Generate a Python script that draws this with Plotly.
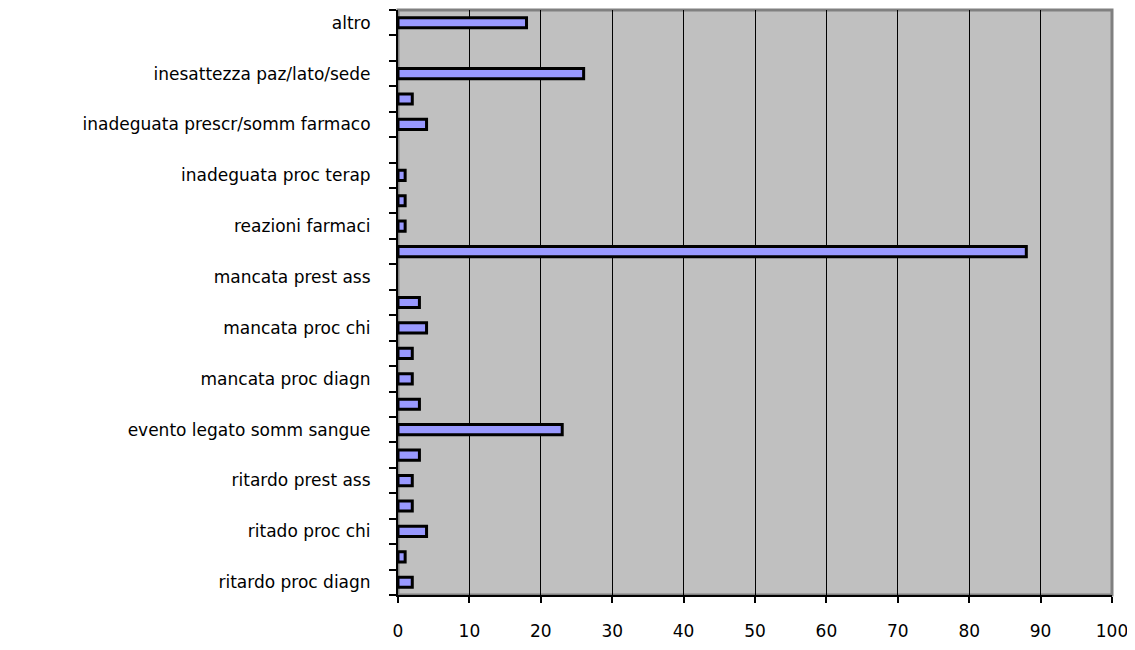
import plotly.graph_objects as go

# Categories from bottom to top; empty strings = rows whose label is not shown
labels = [
    "ritardo proc diagn", "",
    "ritado proc chi", "",
    "ritardo prest ass", "",
    "evento legato somm sangue", "",
    "mancata proc diagn", "",
    "mancata proc chi", "",
    "mancata prest ass", "",
    "reazioni farmaci", "",
    "inadeguata proc terap", "",
    "inadeguata prescr/somm farmaco", "",
    "inesattezza paz/lato/sede", "",
    "altro",
]
values = [2, 1, 4, 2, 2, 3, 23, 3, 2, 2, 4, 3, 0, 88, 1, 1, 1, 0, 4, 2, 26, 0, 18]
x_ticks = [0, 10, 20, 30, 40, 50, 60, 70, 80, 90, 100]

positions = list(range(len(labels)))
shown_pos = [p for p, l in zip(positions, labels) if l]
shown_txt = [l for l in labels if l]
outline_w = [3 if v else 0 for v in values]

font_family = "DejaVu Sans, Verdana, sans-serif"

fig = go.Figure()
fig.add_trace(go.Bar(
    x=values, y=positions, orientation="h",
    width=0.40,
    marker=dict(color="#9999ff", line=dict(color="#000000", width=outline_w)),
    hoverinfo="x+y",
))

fig.update_layout(
    width=1127, height=635,
    margin=dict(l=390, r=23, t=2, b=46),
    paper_bgcolor="#ffffff",
    plot_bgcolor="#c0c0c0",
    showlegend=False,
    font=dict(family=font_family, size=16, color="#000000"),
    xaxis=dict(
        range=[0, 100], tickvals=x_ticks, ticktext=[str(v) for v in x_ticks],
        showgrid=True, gridcolor="#000000", gridwidth=1,
        showline=True, linecolor="#000000", linewidth=2,
        ticks="outside", ticklen=6, tickwidth=2, tickcolor="#000000",
        ticklabelstandoff=14, zeroline=False,
        tickfont=dict(size=17, family=font_family),
    ),
    yaxis=dict(
        range=[-0.5, len(labels) - 0.5],
        tickvals=shown_pos, ticktext=shown_txt,
        ticks="", showgrid=False, zeroline=False,
        showline=True, linecolor="#000000", linewidth=2,
        ticklabelstandoff=22,
        tickfont=dict(size=17, family=font_family),
        minor=dict(tickmode="linear", tick0=-0.5, dtick=1, ticks="outside",
                   ticklen=7, tickwidth=2, tickcolor="#000000", showgrid=False),
    ),
    shapes=[dict(type="rect", xref="paper", yref="paper", x0=0, x1=1, y0=0, y1=1,
                 line=dict(color="#808080", width=3), layer="below")],
)

fig.write_html("out.html")
